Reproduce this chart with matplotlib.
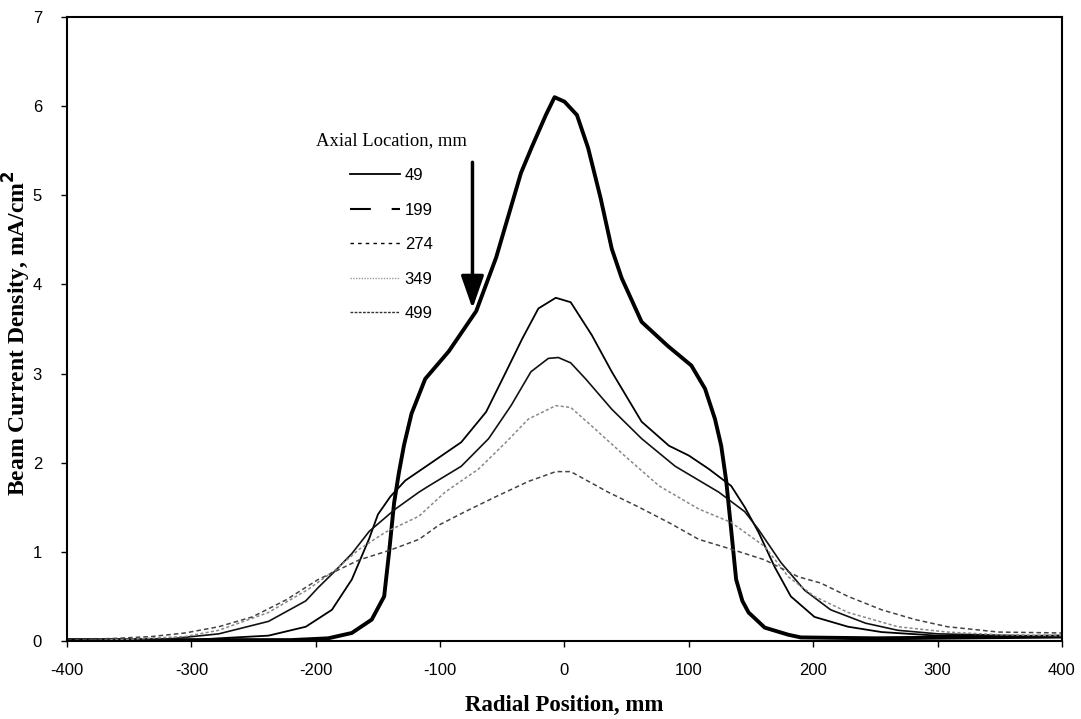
import matplotlib
matplotlib.use("Agg")
from matplotlib import pyplot as plt
from matplotlib.lines import Line2D

plt.rcParams['axes.unicode_minus'] = False

labels = ['49', '199', '274', '349', '499']

x49 = [-400, -300, -220, -190, -171, -155, -145, -141, -137, -133, -129, -123, -112,
       -93, -71, -55, -35, -26, -15, -8, 0, 10, 19, 29, 38, 46, 62, 83, 102, 113,
       121, 126, 130, 134, 138, 143, 148, 161, 180, 190, 250, 400]
y49 = [0.01, 0.01, 0.01, 0.03, 0.09, 0.24, 0.5, 1.0, 1.55, 1.9, 2.2, 2.55, 2.94,
       3.25, 3.7, 4.3, 5.25, 5.55, 5.9, 6.1, 6.05, 5.9, 5.53, 4.97, 4.4, 4.07, 3.58,
       3.31, 3.09, 2.83, 2.49, 2.19, 1.8, 1.25, 0.69, 0.45, 0.32, 0.15, 0.07, 0.04,
       0.03, 0.05]

x199 = [-400, -300, -278, -238, -208, -187, -171, -157, -150, -140, -128, -107, -83,
        -63, -47, -34, -21, -7, 5, 22, 38, 62, 84, 100, 116, 134, 145, 156, 169, 182,
        201, 228, 255, 300, 400]
y199 = [0.0, 0.01, 0.03, 0.06, 0.16, 0.35, 0.69, 1.15, 1.42, 1.62, 1.8, 2.0, 2.23,
        2.57, 3.02, 3.39, 3.73, 3.85, 3.8, 3.43, 3.02, 2.46, 2.19, 2.08, 1.93, 1.74,
        1.5, 1.22, 0.83, 0.5, 0.27, 0.16, 0.1, 0.06, 0.05]

x274 = [-400, -320, -278, -238, -208, -198, -187, -171, -157, -136, -117, -109, -83,
        -61, -43, -27, -13, -5, 5, 17, 38, 62, 89, 124, 145, 156, 174, 193, 214, 242,
        268, 300, 400]
y274 = [0.0, 0.02, 0.08, 0.22, 0.45, 0.6, 0.75, 0.98, 1.23, 1.48, 1.67, 1.74, 1.96,
        2.27, 2.64, 3.02, 3.17, 3.18, 3.12, 2.94, 2.6, 2.27, 1.96, 1.67, 1.45, 1.25,
        0.88, 0.57, 0.35, 0.2, 0.12, 0.08, 0.05]

x349 = [-400, -350, -305, -278, -238, -206, -184, -165, -144, -117, -96, -69, -47,
        -29, -7, 5, 22, 49, 76, 108, 134, 161, 180, 201, 228, 268, 308, 350, 400]
y349 = [0.0, 0.02, 0.05, 0.12, 0.32, 0.58, 0.8, 1.03, 1.22, 1.4, 1.67, 1.93, 2.23,
        2.49, 2.64, 2.62, 2.41, 2.07, 1.74, 1.48, 1.33, 1.06, 0.72, 0.5, 0.32, 0.16,
        0.1, 0.07, 0.06]

x499 = [-400, -360, -332, -305, -278, -251, -224, -198, -165, -140, -117, -101, -80,
        -55, -29, -7, 5, 35, 60, 85, 108, 134, 161, 188, 206, 228, 255, 282, 308, 349,
        400]
y499 = [0.01, 0.03, 0.05, 0.09, 0.16, 0.27, 0.46, 0.69, 0.91, 1.02, 1.14, 1.3, 1.45,
        1.62, 1.79, 1.9, 1.9, 1.67, 1.5, 1.32, 1.14, 1.03, 0.91, 0.72, 0.65, 0.5, 0.35,
        0.24, 0.16, 0.1, 0.09]

sans = ['Liberation Sans Narrow', 'Liberation Sans', 'DejaVu Sans']
serif = ['Liberation Serif', 'DejaVu Serif']

fig = plt.figure(figsize=(10.81, 7.19), dpi=100)
ax = fig.add_axes([0.062, 0.1085, 0.9204, 0.8679])

ax.plot(x49, y49, color='black', lw=2.8)
ax.plot(x199, y199, color='black', lw=1.3)
ax.plot(x274, y274, color='#111111', lw=1.2)
ax.plot(x349, y349, color='#888888', lw=1.1, ls=(0, (2, 1.5)))
ax.plot(x499, y499, color='#444444', lw=1.1, ls=(0, (3, 2)))

# arrow showing increasing axial distance
ax.annotate('', xy=(-74, 3.73), xytext=(-74, 5.37),
            arrowprops=dict(arrowstyle='-|>,head_width=0.35,head_length=1.0',
                            mutation_scale=20, lw=2.5, color='black',
                            shrinkA=0, shrinkB=0))

# legend uses the styles of the original key
handles = [
    Line2D([], [], color='black', lw=1.3),
    Line2D([], [], color='black', lw=1.5, ls=(0, (10, 10))),
    Line2D([], [], color='black', lw=1.0, ls=(0, (2.5, 3))),
    Line2D([], [], color='#999999', lw=1.0, ls=(0, (1, 1))),
    Line2D([], [], color='#333333', lw=1.0, ls=(0, (2, 1))),
]
leg = ax.legend(handles, labels, title='Axial Location, mm', loc='upper left',
                bbox_to_anchor=(0.235, 0.84), frameon=False, handlelength=3.0,
                handletextpad=0.3, labelspacing=1.17,
                prop={'family': sans, 'size': 12})
leg.get_title().set_fontfamily(serif)
leg.get_title().set_fontsize(13.4)

ax.set_xlim(-400, 400)
ax.set_ylim(0, 7)
ax.set_xticks(range(-400, 401, 100))
ax.set_yticks(range(0, 8))
ax.tick_params(direction='out', length=4, width=1, labelsize=12)
ax.tick_params(axis='x', pad=12)
ax.tick_params(axis='y', pad=14)
for t in ax.get_xticklabels() + ax.get_yticklabels():
    t.set_fontfamily(sans)
for s in ax.spines.values():
    s.set_linewidth(1.5)

ax.set_xlabel('Radial Position, mm', fontfamily=serif, fontweight='bold',
              fontsize=16.5, labelpad=12)
ax.set_ylabel('Beam Current Density, mA/cm$^\\mathbf{2}$', fontfamily=serif,
              fontweight='bold', fontsize=17)
ax.yaxis.set_label_coords(-0.034, 0.494)

fig.savefig('out.png', dpi=100)
